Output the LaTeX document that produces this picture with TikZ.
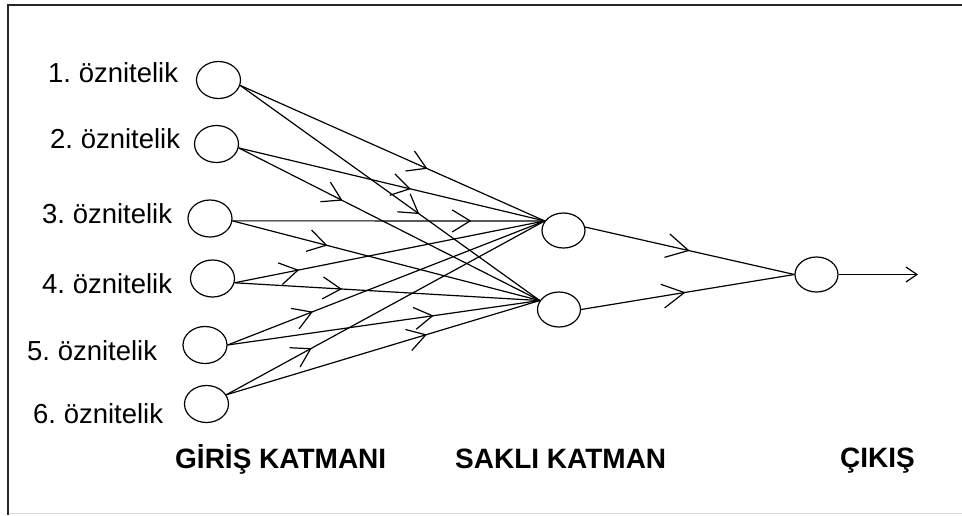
\documentclass[tikz,border=0pt]{standalone}
\usepackage{fontspec}
\setmainfont{Liberation Sans}
\usetikzlibrary{arrows.meta,decorations.markings,shapes.geometric}
\frenchspacing
\begin{document}
\begin{tikzpicture}[x=1pt,y=-1pt,
  neuron/.style={draw, ellipse, line width=1.2pt, minimum width=44pt, minimum height=37pt, inner sep=0pt},
  conn/.style={line width=1.2pt},
  midarr/.style={conn, postaction={decorate}, decoration={markings, mark=at position #1 with {\arrow{Straight Barb[length=18pt,width=22pt,line width=1.2pt]}}}},
  bigarr/.style={conn, postaction={decorate}, decoration={markings, mark=at position #1 with {\arrow{Straight Barb[length=22pt,width=24pt,line width=1.2pt]}}}},
  lbl/.style={font=\fontsize{27.5}{30}\selectfont, inner sep=0pt, anchor=base west},
  title/.style={font=\fontsize{28}{32}\selectfont\bfseries, inner sep=0pt, anchor=base west}
]
\useasboundingbox (0,0) rectangle (962,515);
% frame
\draw[line width=2.5pt, black!85] (8,515) -- (8,5) -- (962,5);
\draw[line width=1.5pt, black!15] (9,513.5) -- (962,513.5);

% input nodes
\node[neuron] (n1) at (218.5,80) {};
\node[neuron] (n2) at (216.5,144) {};
\node[neuron] (n3) at (210,218.5) {};
\node[neuron] (n4) at (212.5,278.5) {};
\node[neuron] (n5) at (205,345) {};
\node[neuron] (n6) at (206.5,404) {};
% hidden nodes
\node[neuron, minimum width=43pt, minimum height=35pt] (hA) at (563.5,230.5) {};
\node[neuron, minimum width=43pt, minimum height=35pt] (hB) at (559,309.5) {};
% output node
\node[neuron, minimum width=43pt, minimum height=35pt] (out) at (816.5,274.5) {};
\coordinate (end) at (918,274.5);

% labels
\node[lbl] (l1) at (48,82) {1. öznitelik};
\node[lbl] (l2) at (50,148) {2. öznitelik};
\node[lbl] (l3) at (42,223) {3. öznitelik};
\node[lbl] (l4) at (42,293) {4. öznitelik};
\node[lbl] (l5) at (27,360) {5. öznitelik};
\node[lbl] (l6) at (33,423) {6. öznitelik};
\node[title] (t1) at (175,468) {GİRİŞ KATMANI};
\node[title] (t2) at (455,468) {SAKLI KATMAN};
\node[title] (t3) at (840,467) {ÇIKIŞ};

% input -> hidden
\draw[midarr=0.615] (n1.-14) -- (hA.153);
\draw[midarr=0.598] (n1.-14) -- (hB.155);
\draw[midarr=0.563] (n2.-10) -- (hA.153);
\draw[midarr=0.345] (n2.-10) -- (hB.155);
\draw[midarr=0.765] (n3.-6) -- (hA.153);
\draw[midarr=0.309] (n3.-6) -- (hB.155);
\draw[midarr=0.208] (n4.-11) -- (hA.153);
\draw[midarr=0.352] (n4.-11) -- (hB.155);
\draw[midarr=0.269] (n5.0) -- (hA.153);
\draw[midarr=0.66] (n5.0) -- (hB.155);
\draw[midarr=0.268] (n6.25) -- (hA.153);
\draw[midarr=0.64] (n6.25) -- (hB.155);
% hidden -> output
\draw[bigarr=0.5] (hA.9) -- (out.180);
\draw[bigarr=0.49] (hB.0) -- (out.180);
% output arrow
\draw[conn, -{Straight Barb[length=11pt,width=15pt,line width=1.2pt]}] (out.0) -- (end);
\end{tikzpicture}
\end{document}
